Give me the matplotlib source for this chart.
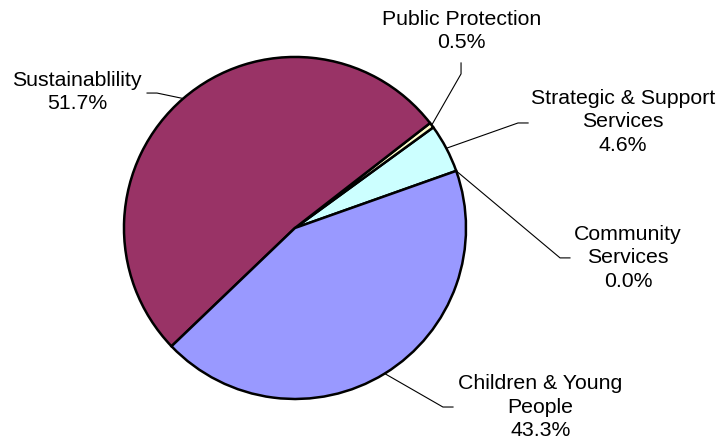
import matplotlib
matplotlib.use('Agg')
import matplotlib.pyplot as plt
import numpy as np

# pie data, counter-clockwise from the start angle
names = ['Community\nServices', 'Strategic & Support\nServices', 'Public Protection',
         'Sustainablility', 'Children & Young\nPeople']
values = [0.0, 4.6, 0.5, 51.7, 43.3]
colors = ['#CCFFFF', '#CCFFFF', '#FFFFCC', '#993366', '#9999FF']

plt.rcParams['font.family'] = ['Liberation Sans', 'DejaVu Sans']

fig = plt.figure(figsize=(7.22, 4.45), dpi=100)
ax = fig.add_axes([0, 0, 1, 1])

wedges, _ = ax.pie(values, colors=colors, startangle=19.5, counterclock=True,
                   wedgeprops=dict(edgecolor='black', linewidth=1.8), center=(0, 0), radius=1,
                   frame=False)
ax.set_xlim(-1.725, 2.497)
ax.set_ylim(-1.269, 1.333)
ax.set_aspect('equal')
ax.axis('off')

# leader elbows and label anchors (layout)
elbows = [(1.550, -0.175), (1.304, 0.614), (0.971, 0.901), (-0.807, 0.789), (0.865, -1.047)]
ends = [(1.608, -0.175), (1.363, 0.614), (0.971, 0.965), (-0.865, 0.789), (0.924, -1.047)]
text_pos = [(1.947, -0.175), (1.918, 0.620), (0.974, 1.152), (-1.275, 0.795), (1.436, -1.047)]

for w, v, n, el, en, tp in zip(wedges, values, names, elbows, ends, text_pos):
    mid = np.deg2rad((w.theta1 + w.theta2) / 2)
    px, py = np.cos(mid), np.sin(mid)
    ax.plot([px, el[0], en[0]], [py, el[1], en[1]], color='black', lw=0.8)
    ax.text(tp[0], tp[1], '%s\n%.1f%%' % (n, v), ha='center', va='center',
            fontsize=15.3, linespacing=1.31)

fig.savefig('out.png', dpi=100)
